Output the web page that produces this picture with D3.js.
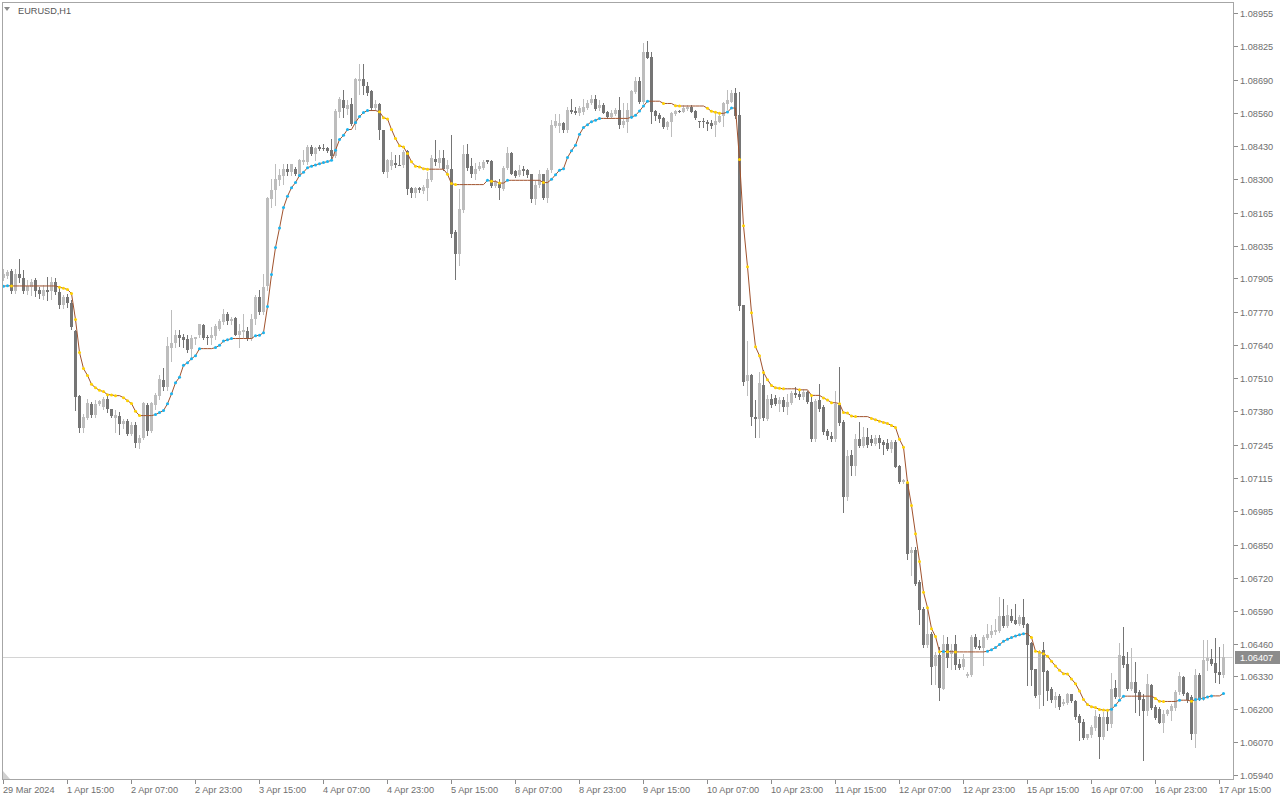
<!DOCTYPE html>
<html><head><meta charset="utf-8">
<script src="https://cdn.jsdelivr.net/npm/d3@7"></script>
<style>html,body{margin:0;padding:0;background:#fff;overflow:hidden}</style>
</head><body>
<svg id="chart" width="1280" height="800"></svg>
<script>
const symbol = "EURUSD,H1";
const timeLabels = ["29 Mar 2024","1 Apr 15:00","2 Apr 07:00","2 Apr 23:00","3 Apr 15:00","4 Apr 07:00","4 Apr 23:00","5 Apr 15:00","8 Apr 07:00","8 Apr 23:00","9 Apr 15:00","10 Apr 07:00","10 Apr 23:00","11 Apr 15:00","12 Apr 07:00","12 Apr 23:00","15 Apr 15:00","16 Apr 07:00","16 Apr 23:00","17 Apr 15:00"];
const barsPerLabel = 16;
const priceTicks = [1.08955,1.08825,1.08690,1.08560,1.08430,1.08300,1.08165,1.08035,1.07905,1.07770,1.07640,1.07510,1.07380,1.07245,1.07115,1.06985,1.06850,1.06720,1.06590,1.06460,1.06330,1.06200,1.06070,1.05940];
const lastPrice = 1.06407;

const open = [
1.07907,1.07915,1.07934,1.07856,1.07924,1.07905,1.07856,1.07872,1.07898,1.07858,
1.07836,1.07858,1.07856,1.07889,1.07852,1.07799,1.07832,1.07808,1.07696,1.07440,
1.07313,1.07353,1.07407,1.07363,1.07407,1.07397,1.07427,1.07387,1.07354,1.07359,
1.07328,1.07341,1.07288,1.07324,1.07254,1.07274,1.07403,1.07301,1.07403,1.07440,
1.07504,1.07477,1.07629,1.07649,1.07679,1.07672,1.07664,1.07624,1.07666,1.07679,
1.07719,1.07673,1.07669,1.07677,1.07706,1.07732,1.07765,1.07735,1.07748,1.07682,
1.07693,1.07695,1.07666,1.07745,1.07831,1.07772,1.07873,1.08221,1.08256,1.08293,
1.08309,1.08339,1.08326,1.08337,1.08313,1.08366,1.08366,1.08423,1.08399,1.08423,
1.08419,1.08419,1.08412,1.08388,1.08564,1.08610,1.08574,1.08594,1.08515,1.08687,
1.08693,1.08665,1.08646,1.08581,1.08594,1.08491,1.08326,1.08349,1.08363,1.08355,
1.08353,1.08408,1.08263,1.08243,1.08263,1.08250,1.08263,1.08296,1.08379,1.08362,
1.08382,1.08339,1.08339,1.08088,1.08000,1.08174,1.08396,1.08348,1.08317,1.08337,
1.08343,1.08372,1.08368,1.08269,1.08280,1.08260,1.08343,1.08401,1.08330,1.08313,
1.08339,1.08333,1.08317,1.08220,1.08273,1.08317,1.08224,1.08333,1.08508,1.08508,
1.08520,1.08491,1.08570,1.08566,1.08560,1.08564,1.08579,1.08597,1.08614,1.08578,
1.08591,1.08562,1.08545,1.08555,1.08571,1.08512,1.08525,1.08545,1.08644,1.08686,
1.08604,1.08802,1.08782,1.08567,1.08551,1.08538,1.08505,1.08522,1.08555,1.08567,
1.08564,1.08575,1.08584,1.08567,1.08527,1.08527,1.08522,1.08518,1.08512,1.08525,
1.08547,1.08595,1.08604,1.08637,1.08550,1.07798,1.07497,1.07521,1.07356,1.07347,
1.07485,1.07347,1.07428,1.07431,1.07409,1.07422,1.07398,1.07411,1.07451,1.07448,
1.07435,1.07455,1.07415,1.07270,1.07422,1.07395,1.07300,1.07283,1.07270,1.07402,
1.07336,1.07041,1.07206,1.07162,1.07269,1.07243,1.07278,1.07268,1.07249,1.07274,
1.07256,1.07254,1.07229,1.07258,1.07162,1.07100,1.07100,1.06820,1.06832,1.06704,
1.06596,1.06453,1.06497,1.06370,1.06414,1.06282,1.06457,1.06420,1.06457,1.06378,
1.06367,1.06330,1.06334,1.06486,1.06449,1.06444,1.06484,1.06493,1.06506,1.06509,
1.06568,1.06528,1.06568,1.06552,1.06539,1.06565,1.06539,1.06462,1.06358,1.06255,
1.06433,1.06350,1.06279,1.06235,1.06251,1.06222,1.06226,1.06259,1.06231,1.06173,
1.06148,1.06086,1.06097,1.06126,1.06170,1.06091,1.06170,1.06140,1.06286,1.06249,
1.06410,1.06379,1.06282,1.06309,1.06269,1.06240,1.06194,1.06295,1.06210,1.06200,
1.06146,1.06183,1.06194,1.06207,1.06269,1.06326,1.06265,1.06249,1.06104,1.06335,
1.06240,1.06392,1.06397,1.06384,1.06348,1.06335];

const high = [
1.07944,1.07938,1.07944,1.07942,1.07981,1.07938,1.07898,1.07902,1.07905,1.07872,
1.07878,1.07911,1.07911,1.07905,1.07865,1.07841,1.07845,1.07819,1.07700,1.07443,
1.07370,1.07429,1.07416,1.07423,1.07423,1.07436,1.07443,1.07390,1.07383,1.07377,
1.07350,1.07350,1.07337,1.07337,1.07284,1.07416,1.07410,1.07416,1.07450,1.07522,
1.07551,1.07673,1.07781,1.07699,1.07699,1.07686,1.07679,1.07679,1.07675,1.07726,
1.07726,1.07679,1.07712,1.07726,1.07745,1.07785,1.07772,1.07752,1.07752,1.07726,
1.07765,1.07712,1.07765,1.07838,1.07858,1.07924,1.08227,1.08300,1.08359,1.08339,
1.08359,1.08359,1.08359,1.08346,1.08379,1.08412,1.08432,1.08432,1.08425,1.08432,
1.08438,1.08425,1.08458,1.08577,1.08623,1.08650,1.08610,1.08617,1.08696,1.08755,
1.08755,1.08683,1.08650,1.08610,1.08597,1.08494,1.08379,1.08405,1.08392,1.08392,
1.08412,1.08412,1.08267,1.08267,1.08267,1.08273,1.08326,1.08392,1.08454,1.08412,
1.08412,1.08372,1.08471,1.08095,1.08257,1.08432,1.08436,1.08383,1.08362,1.08366,
1.08372,1.08375,1.08372,1.08293,1.08300,1.08348,1.08425,1.08405,1.08335,1.08352,
1.08348,1.08339,1.08319,1.08293,1.08335,1.08319,1.08343,1.08533,1.08557,1.08557,
1.08524,1.08583,1.08616,1.08583,1.08586,1.08616,1.08610,1.08630,1.08630,1.08611,
1.08597,1.08567,1.08571,1.08580,1.08624,1.08597,1.08597,1.08650,1.08703,1.08703,
1.08835,1.08844,1.08802,1.08571,1.08558,1.08545,1.08527,1.08564,1.08571,1.08571,
1.08591,1.08591,1.08591,1.08571,1.08527,1.08538,1.08531,1.08531,1.08558,1.08558,
1.08604,1.08650,1.08650,1.08657,1.08643,1.07798,1.07659,1.07527,1.07422,1.07534,
1.07541,1.07442,1.07448,1.07442,1.07435,1.07435,1.07448,1.07461,1.07475,1.07461,
1.07468,1.07461,1.07442,1.07428,1.07488,1.07402,1.07310,1.07296,1.07461,1.07556,
1.07344,1.07225,1.07225,1.07291,1.07335,1.07315,1.07311,1.07285,1.07285,1.07285,
1.07265,1.07268,1.07265,1.07265,1.07166,1.07110,1.07107,1.06843,1.06843,1.06711,
1.06605,1.06592,1.06506,1.06427,1.06447,1.06493,1.06486,1.06460,1.06493,1.06400,
1.06420,1.06347,1.06493,1.06499,1.06473,1.06493,1.06539,1.06532,1.06559,1.06645,
1.06638,1.06612,1.06598,1.06618,1.06572,1.06638,1.06542,1.06466,1.06361,1.06433,
1.06466,1.06354,1.06288,1.06268,1.06262,1.06242,1.06264,1.06262,1.06235,1.06183,
1.06163,1.06103,1.06137,1.06196,1.06183,1.06190,1.06196,1.06342,1.06315,1.06463,
1.06526,1.06427,1.06441,1.06388,1.06276,1.06262,1.06339,1.06302,1.06216,1.06210,
1.06196,1.06203,1.06220,1.06278,1.06348,1.06331,1.06269,1.06256,1.06361,1.06342,
1.06476,1.06476,1.06437,1.06484,1.06447,1.06458];

const low = [
1.07898,1.07907,1.07848,1.07848,1.07891,1.07849,1.07845,1.07839,1.07836,1.07829,
1.07825,1.07819,1.07823,1.07845,1.07786,1.07788,1.07792,1.07704,1.07383,1.07297,
1.07297,1.07350,1.07357,1.07357,1.07403,1.07390,1.07377,1.07357,1.07297,1.07291,
1.07311,1.07284,1.07284,1.07238,1.07235,1.07271,1.07284,1.07297,1.07390,1.07429,
1.07462,1.07462,1.07580,1.07633,1.07636,1.07633,1.07613,1.07594,1.07646,1.07673,
1.07666,1.07646,1.07646,1.07666,1.07699,1.07726,1.07726,1.07726,1.07679,1.07633,
1.07673,1.07660,1.07660,1.07726,1.07765,1.07765,1.07858,1.08188,1.08194,1.08273,
1.08280,1.08313,1.08313,1.08313,1.08309,1.08359,1.08359,1.08392,1.08372,1.08412,
1.08412,1.08405,1.08379,1.08386,1.08544,1.08544,1.08557,1.08511,1.08498,1.08636,
1.08636,1.08630,1.08570,1.08570,1.08458,1.08320,1.08306,1.08339,1.08346,1.08353,
1.08346,1.08240,1.08227,1.08227,1.08247,1.08243,1.08214,1.08291,1.08353,1.08346,
1.08333,1.08320,1.08069,1.07901,1.07956,1.08168,1.08333,1.08306,1.08300,1.08333,
1.08339,1.08363,1.08267,1.08267,1.08220,1.08253,1.08339,1.08317,1.08306,1.08309,
1.08313,1.08306,1.08207,1.08201,1.08267,1.08220,1.08207,1.08326,1.08504,1.08484,
1.08484,1.08484,1.08560,1.08557,1.08550,1.08557,1.08577,1.08594,1.08570,1.08571,
1.08558,1.08538,1.08541,1.08551,1.08501,1.08505,1.08485,1.08538,1.08637,1.08597,
1.08597,1.08776,1.08518,1.08531,1.08525,1.08501,1.08498,1.08469,1.08551,1.08562,
1.08562,1.08571,1.08562,1.08535,1.08505,1.08505,1.08492,1.08501,1.08469,1.08522,
1.08509,1.08575,1.08601,1.08538,1.07778,1.07485,1.07442,1.07323,1.07277,1.07277,
1.07343,1.07343,1.07395,1.07402,1.07382,1.07382,1.07369,1.07409,1.07435,1.07428,
1.07428,1.07411,1.07263,1.07263,1.07382,1.07290,1.07270,1.07262,1.07263,1.07323,
1.06981,1.07027,1.07126,1.07126,1.07239,1.07239,1.07239,1.07245,1.07245,1.07232,
1.07212,1.07225,1.07219,1.07157,1.07096,1.07096,1.06796,1.06733,1.06693,1.06539,
1.06447,1.06447,1.06301,1.06301,1.06238,1.06282,1.06367,1.06361,1.06361,1.06361,
1.06361,1.06328,1.06330,1.06444,1.06440,1.06374,1.06480,1.06486,1.06499,1.06506,
1.06526,1.06526,1.06546,1.06536,1.06532,1.06526,1.06295,1.06295,1.06249,1.06206,
1.06216,1.06235,1.06229,1.06209,1.06202,1.06216,1.06222,1.06229,1.06163,1.06077,
1.06084,1.06084,1.06091,1.06117,1.06009,1.06084,1.06117,1.06130,1.06243,1.06239,
1.06368,1.06276,1.06276,1.06190,1.06177,1.05998,1.06177,1.06203,1.06163,1.06144,
1.06111,1.06177,1.06157,1.06199,1.06262,1.06256,1.06229,1.06084,1.06049,1.06236,
1.06236,1.06355,1.06375,1.06309,1.06305,1.06328];

const close = [
1.07924,1.07931,1.07856,1.07924,1.07905,1.07856,1.07874,1.07891,1.07856,1.07845,
1.07858,1.07852,1.07889,1.07852,1.07799,1.07832,1.07808,1.07713,1.07436,1.07313,
1.07357,1.07410,1.07363,1.07407,1.07420,1.07427,1.07387,1.07361,1.07363,1.07328,
1.07341,1.07288,1.07324,1.07254,1.07275,1.07410,1.07301,1.07410,1.07443,1.07506,
1.07477,1.07636,1.07649,1.07679,1.07669,1.07660,1.07620,1.07670,1.07673,1.07723,
1.07669,1.07669,1.07679,1.07715,1.07735,1.07765,1.07735,1.07743,1.07682,1.07695,
1.07699,1.07666,1.07745,1.07831,1.07772,1.07871,1.08223,1.08256,1.08297,1.08313,
1.08339,1.08326,1.08357,1.08317,1.08372,1.08372,1.08423,1.08399,1.08419,1.08416,
1.08416,1.08409,1.08388,1.08566,1.08613,1.08580,1.08590,1.08515,1.08693,1.08693,
1.08667,1.08639,1.08580,1.08594,1.08491,1.08324,1.08372,1.08372,1.08353,1.08353,
1.08405,1.08259,1.08243,1.08263,1.08256,1.08267,1.08297,1.08383,1.08366,1.08382,
1.08339,1.08352,1.08079,1.08000,1.08178,1.08396,1.08343,1.08317,1.08339,1.08348,
1.08366,1.08366,1.08269,1.08286,1.08263,1.08343,1.08401,1.08319,1.08309,1.08335,
1.08330,1.08313,1.08220,1.08273,1.08317,1.08224,1.08335,1.08511,1.08527,1.08520,
1.08491,1.08570,1.08564,1.08560,1.08581,1.08583,1.08599,1.08614,1.08577,1.08591,
1.08560,1.08545,1.08558,1.08571,1.08512,1.08527,1.08571,1.08646,1.08686,1.08604,
1.08802,1.08778,1.08564,1.08547,1.08535,1.08505,1.08522,1.08558,1.08567,1.08564,
1.08580,1.08584,1.08564,1.08538,1.08525,1.08522,1.08516,1.08509,1.08527,1.08547,
1.08597,1.08611,1.08637,1.08547,1.07795,1.07494,1.07521,1.07356,1.07347,1.07490,
1.07352,1.07428,1.07402,1.07409,1.07422,1.07398,1.07415,1.07451,1.07442,1.07435,
1.07455,1.07415,1.07270,1.07419,1.07389,1.07296,1.07283,1.07270,1.07409,1.07332,
1.07041,1.07203,1.07162,1.07269,1.07241,1.07278,1.07245,1.07252,1.07272,1.07252,
1.07245,1.07229,1.07256,1.07159,1.07100,1.07107,1.06816,1.06832,1.06697,1.06592,
1.06453,1.06497,1.06367,1.06414,1.06286,1.06457,1.06404,1.06433,1.06374,1.06365,
1.06400,1.06338,1.06486,1.06447,1.06443,1.06486,1.06497,1.06510,1.06513,1.06568,
1.06528,1.06572,1.06550,1.06539,1.06565,1.06532,1.06453,1.06354,1.06251,1.06424,
1.06348,1.06272,1.06235,1.06251,1.06209,1.06229,1.06259,1.06231,1.06169,1.06146,
1.06086,1.06101,1.06128,1.06173,1.06091,1.06170,1.06141,1.06282,1.06249,1.06414,
1.06375,1.06282,1.06309,1.06265,1.06236,1.06194,1.06299,1.06207,1.06167,1.06146,
1.06183,1.06196,1.06212,1.06269,1.06331,1.06260,1.06236,1.06104,1.06335,1.06240,
1.06394,1.06401,1.06381,1.06342,1.06335,1.06407];

const trendLine = [
1.07874,1.07876,1.07875,1.07875,1.07875,1.07875,1.07875,1.07875,1.07875,1.07875,
1.07875,1.07875,1.07875,1.07875,1.07870,1.07866,1.07861,1.07845,1.07742,1.07612,
1.07548,1.07521,1.07486,1.07472,1.07462,1.07457,1.07445,1.07444,1.07441,1.07441,
1.07433,1.07421,1.07410,1.07379,1.07362,1.07362,1.07362,1.07362,1.07366,1.07374,
1.07382,1.07409,1.07448,1.07492,1.07514,1.07561,1.07571,1.07587,1.07599,1.07627,
1.07627,1.07627,1.07627,1.07631,1.07640,1.07657,1.07662,1.07667,1.07667,1.07667,
1.07667,1.07667,1.07667,1.07678,1.07680,1.07690,1.07794,1.07920,1.08027,1.08104,
1.08185,1.08230,1.08264,1.08284,1.08312,1.08325,1.08343,1.08349,1.08354,1.08359,
1.08363,1.08367,1.08372,1.08412,1.08454,1.08471,1.08494,1.08494,1.08522,1.08545,
1.08561,1.08569,1.08569,1.08569,1.08564,1.08541,1.08536,1.08494,1.08458,1.08430,
1.08425,1.08399,1.08366,1.08349,1.08346,1.08339,1.08337,1.08337,1.08337,1.08337,
1.08337,1.08317,1.08280,1.08276,1.08276,1.08276,1.08276,1.08276,1.08276,1.08276,
1.08276,1.08293,1.08289,1.08289,1.08282,1.08282,1.08293,1.08293,1.08293,1.08293,
1.08293,1.08293,1.08293,1.08293,1.08293,1.08284,1.08284,1.08297,1.08315,1.08333,
1.08339,1.08383,1.08410,1.08432,1.08475,1.08502,1.08513,1.08525,1.08531,1.08538,
1.08538,1.08538,1.08538,1.08538,1.08538,1.08538,1.08538,1.08543,1.08550,1.08567,
1.08587,1.08606,1.08606,1.08606,1.08606,1.08597,1.08597,1.08597,1.08588,1.08587,
1.08587,1.08587,1.08587,1.08587,1.08587,1.08587,1.08578,1.08566,1.08562,1.08558,
1.08558,1.08563,1.08579,1.08579,1.08375,1.08113,1.07951,1.07769,1.07634,1.07599,
1.07533,1.07504,1.07481,1.07472,1.07470,1.07468,1.07468,1.07468,1.07468,1.07464,
1.07464,1.07464,1.07442,1.07442,1.07442,1.07432,1.07424,1.07413,1.07413,1.07409,
1.07374,1.07372,1.07360,1.07358,1.07358,1.07358,1.07358,1.07351,1.07346,1.07340,
1.07335,1.07331,1.07323,1.07315,1.07268,1.07237,1.07097,1.07006,1.06895,1.06785,
1.06663,1.06602,1.06519,1.06488,1.06428,1.06429,1.06428,1.06428,1.06427,1.06427,
1.06427,1.06427,1.06427,1.06427,1.06427,1.06427,1.06430,1.06436,1.06444,1.06456,
1.06469,1.06477,1.06484,1.06490,1.06495,1.06499,1.06499,1.06484,1.06430,1.06426,
1.06420,1.06410,1.06390,1.06371,1.06354,1.06341,1.06340,1.06320,1.06301,1.06272,
1.06239,1.06219,1.06210,1.06207,1.06199,1.06197,1.06196,1.06200,1.06216,1.06236,
1.06252,1.06252,1.06252,1.06252,1.06252,1.06252,1.06252,1.06252,1.06243,1.06232,
1.06231,1.06231,1.06231,1.06231,1.06236,1.06236,1.06236,1.06232,1.06239,1.06241,
1.06243,1.06249,1.06253,1.06253,1.06253,1.06262];

// ---------- drawing ----------
const svg = d3.select("#chart");
const FONT = "'Liberation Sans', Arial, sans-serif";
const TXT = "#6e6e6e";
const plot = {left: 2, top: 2, right: 1233, bottom: 779};
const n = close.length;
const x = d3.scaleLinear().domain([0, n - 1]).range([3, 3 + 4 * (n - 1)]);
const y = d3.scaleLinear().domain([1.05940, 1.08955]).range([775, 13]);

svg.append("rect").attr("width", 1280).attr("height", 800).attr("fill", "#ffffff");

svg.append("defs").append("clipPath").attr("id", "clip")
  .append("rect").attr("x", plot.left + 0.5).attr("y", plot.top + 0.5)
  .attr("width", plot.right - plot.left - 1).attr("height", plot.bottom - plot.top - 1);

const g = svg.append("g").attr("clip-path", "url(#clip)");

// last price line
g.append("line").attr("x1", plot.left).attr("x2", plot.right)
  .attr("y1", Math.round(y(lastPrice)) + 0.5).attr("y2", Math.round(y(lastPrice)) + 0.5)
  .attr("stroke", "#d4d4d4").attr("stroke-width", 1);

const bars = d3.range(n).map(i => ({i, o: open[i], h: high[i], l: low[i], c: close[i]}));
const light = "#bdbdbd", dark = "#757575";
const col = d => d.c >= d.o ? light : dark;

const cg = g.append("g").attr("shape-rendering", "crispEdges");
cg.selectAll("rect.wick").data(bars).join("rect").attr("class", "wick")
  .attr("x", d => Math.round(x(d.i)))
  .attr("width", 1)
  .attr("y", d => Math.round(y(d.h)))
  .attr("height", d => Math.max(1, Math.round(y(d.l)) - Math.round(y(d.h)) + 1))
  .attr("fill", col);
cg.selectAll("rect.body").data(bars).join("rect").attr("class", "body")
  .attr("x", d => Math.round(x(d.i)) - 1)
  .attr("width", 3)
  .attr("y", d => Math.round(y(Math.max(d.o, d.c))))
  .attr("height", d => Math.max(1, Math.round(y(Math.min(d.o, d.c))) - Math.round(y(Math.max(d.o, d.c)))))
  .attr("fill", col);

// trend line
const line = d3.line().x((d, i) => Math.round(x(i)) + 0.5).y(d => y(d));
g.append("path").datum(trendLine).attr("d", line)
  .attr("fill", "none").attr("stroke", "#a0522d").attr("stroke-width", 1);

const trend = trendLine.map((v, i) => {
  const d = i === 0 ? trendLine[1] - v : v - trendLine[i - 1];
  return Math.abs(d) < 1e-7 ? 0 : (d > 0 ? 1 : -1);
});
const dots = trendLine.map((v, i) => ({i, v, t: trend[i]})).filter(d => d.t !== 0);
g.selectAll("circle.dot").data(dots).join("circle").attr("class", "dot")
  .attr("cx", d => Math.round(x(d.i)) + 0.5)
  .attr("cy", d => y(d.v))
  .attr("r", 1.5)
  .attr("fill", d => d.t > 0 ? "#1cb4ef" : "#ffd200");

// frame
svg.append("rect").attr("x", plot.left + 0.5).attr("y", plot.top + 0.5)
  .attr("width", plot.right - plot.left).attr("height", plot.bottom - plot.top)
  .attr("fill", "none").attr("stroke", "#a6a6a6").attr("shape-rendering", "crispEdges");

// right price axis
const ra = svg.append("g").attr("shape-rendering", "crispEdges");
ra.selectAll("line").data(priceTicks).join("line")
  .attr("x1", plot.right + 0.5).attr("x2", plot.right + 4.5)
  .attr("y1", d => Math.round(y(d)) + 0.5).attr("y2", d => Math.round(y(d)) + 0.5)
  .attr("stroke", "#8c8c8c");
svg.append("g").selectAll("text").data(priceTicks).join("text")
  .attr("x", 1240).attr("y", d => Math.round(y(d)) + 3.5)
  .attr("font-family", FONT).attr("font-size", "9.2px").attr("fill", TXT)
  .text(d => d.toFixed(5));

// last price label
const ly = Math.round(y(lastPrice));
svg.append("rect").attr("x", 1235).attr("y", ly - 6).attr("width", 45).attr("height", 13)
  .attr("fill", "#8c8c8c");
svg.append("text").attr("x", 1240).attr("y", ly + 3.5)
  .attr("font-family", FONT).attr("font-size", "9.2px").attr("fill", "#ffffff")
  .text(lastPrice.toFixed(5));

// bottom time axis
const tl = timeLabels.map((s, k) => ({s, i: k * barsPerLabel}));
svg.append("g").attr("shape-rendering", "crispEdges").selectAll("line").data(tl).join("line")
  .attr("x1", d => Math.round(x(d.i)) + 0.5).attr("x2", d => Math.round(x(d.i)) + 0.5)
  .attr("y1", plot.bottom + 0.5).attr("y2", plot.bottom + 4.5)
  .attr("stroke", "#8c8c8c");
svg.append("g").selectAll("text").data(tl).join("text")
  .attr("x", d => Math.round(x(d.i)))
  .attr("y", 793)
  .attr("font-family", FONT).attr("font-size", "9.2px").attr("fill", TXT)
  .text(d => d.s);

// top-left symbol label
svg.append("path").attr("d", "M4,7 L10,7 L7,11 Z").attr("fill", "#8a8a8a");
svg.append("text").attr("x", 18).attr("y", 14)
  .attr("font-family", FONT).attr("font-size", "9.2px").attr("fill", "#555555")
  .text(symbol);

// bottom-left shift marker
svg.append("path").attr("d", "M3,771 L3,779 L10,779 Z").attr("fill", "#d0d0d0");
</script>
</body></html>
